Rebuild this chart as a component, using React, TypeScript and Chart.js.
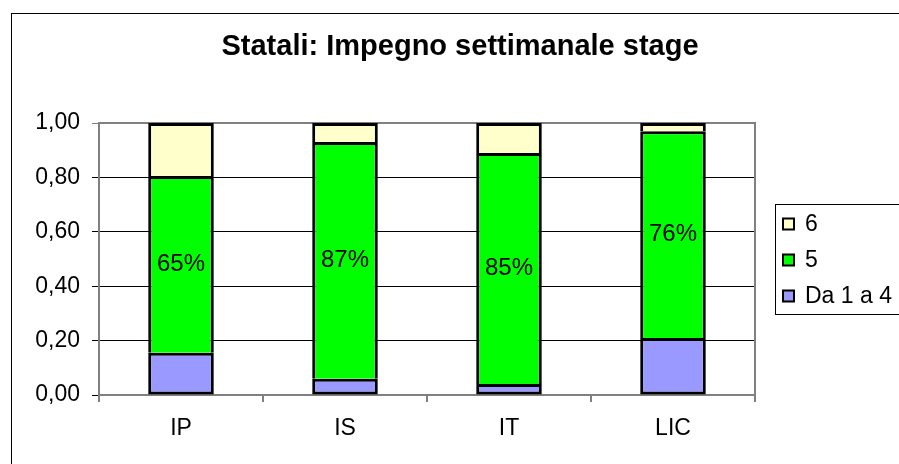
import React, { useEffect, useRef } from "react";
import { Chart, registerables } from "chart.js";

Chart.register(...registerables);

const TITLE = "Statali: Impegno settimanale stage";
const categories = ["IP", "IS", "IT", "LIC"];
const seriesLabels = ["Da 1 a 4", "5", "6"];
const seriesDa1a4 = [0.155, 0.06, 0.04, 0.21];
const series5 = [0.65, 0.87, 0.85, 0.76];
const series6 = [0.195, 0.07, 0.11, 0.03];
const yTickLabels = ["0,00", "0,20", "0,40", "0,60", "0,80", "1,00"];

const FONT = "'Liberation Sans', Arial, sans-serif";
const COLORS = ["#9999FF", "#00FF00", "#FFFFCC"];

const decor = {
  id: "decor",
  beforeDraw(chart: any) {
    const ctx = chart.ctx;
    ctx.save();
    ctx.fillStyle = "#ffffff";
    ctx.fillRect(0, 0, chart.width, chart.height);
    ctx.strokeStyle = "#000000";
    ctx.lineWidth = 1;
    ctx.strokeRect(11.5, 13.5, 920, 480);
    ctx.restore();
  },
  beforeDatasetsDraw(chart: any) {
    const { ctx, chartArea } = chart;
    ctx.save();
    ctx.strokeStyle = "#808080";
    ctx.lineWidth = 2;
    ctx.strokeRect(chartArea.left, chartArea.top, chartArea.right - chartArea.left, chartArea.bottom - chartArea.top);
    ctx.restore();
  },
  afterDatasetsDraw(chart: any) {
    const ctx = chart.ctx;
    const meta = chart.getDatasetMeta(1);
    const data = chart.data.datasets[1].data;
    ctx.save();
    ctx.fillStyle = "#000";
    ctx.font = `24px ${FONT}`;
    ctx.textAlign = "center";
    ctx.textBaseline = "middle";
    meta.data.forEach((bar: any, i: number) => {
      const v = data[i] as number;
      ctx.fillText(`${Math.round(v * 100)}%`, bar.x, (bar.y + bar.base) / 2);
    });
    ctx.restore();
  },
  afterDraw(chart: any) {
    const ctx = chart.ctx;
    ctx.save();
    // title
    ctx.fillStyle = "#000";
    ctx.font = `bold 29px ${FONT}`;
    ctx.textAlign = "center";
    ctx.textBaseline = "middle";
    ctx.fillText(TITLE, 460, 47);
    // legend
    ctx.strokeStyle = "#000";
    ctx.lineWidth = 1;
    ctx.strokeRect(775.5, 204.5, 160, 110);
    const ds = chart.data.datasets;
    ctx.font = `23px ${FONT}`;
    ctx.textAlign = "left";
    for (let k = 0; k < ds.length; k++) {
      const d = ds[ds.length - 1 - k];
      const cy = 224 + k * 36;
      ctx.fillStyle = d.backgroundColor;
      ctx.fillRect(783, cy - 5.5, 11, 11);
      ctx.lineWidth = 2;
      ctx.strokeStyle = "#000";
      ctx.strokeRect(783, cy - 5.5, 11, 11);
      ctx.fillStyle = "#000";
      ctx.fillText(d.label, 805, cy + 1);
    }
    ctx.restore();
  },
};

export default function App() {
  const ref = useRef<HTMLCanvasElement>(null);
  useEffect(() => {
    if (!ref.current) return;
    const values = [seriesDa1a4, series5, series6];
    const chart = new Chart(ref.current, {
      type: "bar",
      data: {
        labels: categories,
        datasets: values.map((vals, i) => ({
          label: seriesLabels[i],
          data: vals,
          backgroundColor: COLORS[i],
          borderColor: "#000000",
          borderWidth: 3,
          borderSkipped: i === 0 ? false : "bottom",
          barPercentage: 0.4,
          categoryPercentage: 1,
        })),
      },
      options: {
        responsive: false,
        animation: false,
        devicePixelRatio: 1,
        layout: { padding: { left: 0, top: 123, right: 144, bottom: 0 } },
        plugins: { legend: { display: false }, title: { display: false }, tooltip: { enabled: false } },
        scales: {
          x: {
            stacked: true,
            afterFit: (s: any) => {
              s.height = 69;
            },
            border: { display: false },
            grid: { offset: true, drawOnChartArea: false, drawTicks: true, tickLength: 7, color: "#808080", lineWidth: 2 },
            ticks: { color: "#000", font: { family: FONT, size: 23 }, padding: 13 },
          },
          y: {
            stacked: true,
            min: 0,
            max: 1,
            afterFit: (s: any) => {
              s.width = 99;
            },
            border: { display: false },
            grid: {
              color: (c: any) => (c.tick && c.tick.value === 1 ? "#808080" : "#000000"),
              lineWidth: 1,
              tickLength: 7,
            },
            ticks: {
              stepSize: 0.2,
              color: "#000",
              font: { family: FONT, size: 23 },
              padding: 12,
              callback: (_v: any, idx: number) => yTickLabels[idx],
            },
          },
        },
      },
      plugins: [decor],
    });
    return () => chart.destroy();
  }, []);
  return (
    <div style={{ position: "fixed", left: 0, top: 0, width: 899, height: 464 }}>
      <canvas ref={ref} width={899} height={464} style={{ width: 899, height: 464 }} />
    </div>
  );
}
